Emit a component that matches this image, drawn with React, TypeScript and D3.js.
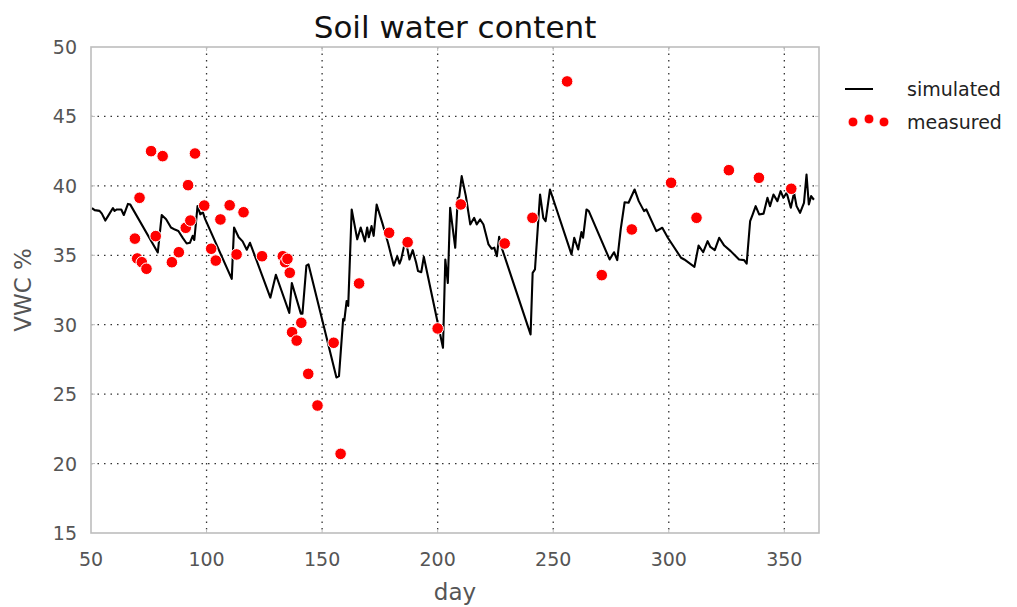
import React from 'react';
import * as d3 from 'd3';

// simulated soil water content (day, VWC %)
const simDays = [
  50.4, 51.6, 53.7, 54.7, 56.2, 57.3, 59.5, 60.2, 61.2, 63.1, 64.2, 66, 67, 78.9, 80.6, 82.5, 84.6, 86.3, 87.8,
  89.7, 91.4, 92.8, 94, 94.7, 96.1, 97.3, 98.4, 99.4, 110.9, 111.9, 113.9, 115.6, 117.4, 118.8, 120.7, 127.6,
  130, 135.8, 136.9, 140.8, 141.5, 143.2, 144.1, 156.2, 157.3, 159.1, 159.6, 160.6, 161.3, 162.8, 165.2, 166.7,
  168.5, 169.5, 170.2, 171.4, 172.3, 173.6, 176.1, 178.5, 181, 182.5, 183.5, 184.2, 186.1, 187.8, 189.2, 190.7,
  191.5, 192.9, 194, 202.3, 203.3, 204.4, 205.4, 207.6, 208.7, 209.3, 210.4, 212.2, 214.1, 215.8, 216.9, 218.4,
  219.8, 222, 223.4, 224.5, 225.6, 226.6, 227.4, 240.2, 241.1, 242.1, 244.3, 245.7, 246.7, 248.6, 257.9, 259.1,
  260.8, 262.2, 262.9, 264.4, 265.4, 274.4, 276.3, 277.7, 279.2, 280.9, 282.6, 285.2, 287, 289.3, 290.3, 294.6,
  297.2, 299.6, 305.3, 306.7, 311.1, 312.9, 314.9, 316.8, 318, 319.9, 321.8, 324, 326.8, 330.4, 332.6, 333.7,
  335.2, 336.2, 337.6, 339.1, 341, 342.7, 343.8, 345.3, 347, 348.4, 349.6, 351, 352.8, 354.2, 355.3, 356.8,
  358.5, 359.6, 360.6, 361.6, 362.8
];
const simVwc = [
  38.4, 38.25, 38.2, 38.0, 37.5, 37.8, 38.4, 38.2, 38.3, 38.3, 37.9, 38.7, 38.65, 35.2, 37.9, 37.6, 37.0, 36.85, 36.75,
  36.25, 35.85, 35.9, 36.4, 36.1, 38.55, 37.95, 38.1, 37.6, 33.3, 37.0, 36.3, 36.0, 35.4, 35.9, 35.05, 31.95,
  33.6, 30.85, 33.0, 30.8, 30.8, 34.25, 34.35, 26.2, 26.3, 30.4, 30.3, 31.7, 31.35, 38.3, 36.15, 37.0,
  36.0, 37.0, 36.3, 37.1, 36.4, 38.65, 37.3, 35.9, 34.26, 34.93, 34.4, 34.7, 36.14, 34.7, 35.37, 34.46,
  33.86, 33.78, 34.89, 28.34, 34.7, 33.0, 38.42, 35.54, 39.14, 39.2, 40.7, 39.26, 37.22, 37.7, 37.22, 37.58,
  37.22, 35.78, 35.47, 35.55, 34.93, 36.33, 35.7, 29.3, 33.74, 33.98, 39.38, 37.7, 37.46, 39.74, 35.06, 36.26,
  35.42, 36.67, 36.26, 38.3, 38.18, 34.7, 35.22, 34.65, 36.86, 38.82, 38.78, 39.74, 38.9, 38.18, 38.3, 36.74,
  36.98, 36.26, 34.82, 34.7, 34.17, 35.7, 35.22, 36.02, 35.6, 35.37, 36.26, 35.7, 35.3, 34.7, 34.65, 34.4,
  37.46, 37.9, 38.54, 37.94, 38.0, 39.14, 38.54, 39.38, 38.9, 39.62, 39.14, 39.5, 38.42, 39.5, 38.54, 38.06,
  38.78, 40.82, 38.66, 39.26, 39.0
];

// measured soil water content
const measDays = [
  69, 70, 72, 74, 71, 76, 81, 95, 92, 78, 85, 88, 91, 93, 99, 102, 104, 106, 110, 116, 113, 124,
  133, 134, 135, 136, 141, 137, 139, 144, 148, 158, 155, 166, 179, 187, 200, 210, 229, 241, 256,
  271, 284, 301, 312, 326, 339, 353
];
const measVwc = [
  36.2, 34.77, 34.5, 34.03, 39.14, 42.5, 42.14, 42.33, 40.05, 36.38, 34.5, 35.22, 36.98, 37.5, 38.58, 35.47,
  34.62, 37.58, 38.6, 38.1, 35.06, 34.93, 34.93, 34.5, 34.74, 33.74, 30.14, 29.46, 28.86, 26.46, 24.18, 20.7,
  28.7, 32.97, 36.62, 35.94, 29.73, 38.66, 35.85, 37.7, 47.52, 33.57, 36.86, 40.22, 37.7, 41.13, 40.58, 39.79
];

const xTicks = [50, 100, 150, 200, 250, 300, 350];
const yTicks = [15, 20, 25, 30, 35, 40, 45, 50];

const W = 1017;
const H = 607;
const plot = { left: 91, right: 819, top: 47, bottom: 533 };
const font = 'DejaVu Sans, sans-serif';

export default function App() {
  const x = d3.scaleLinear().domain([50, 365]).range([plot.left, plot.right]);
  const y = d3.scaleLinear().domain([15, 50]).range([plot.bottom, plot.top]);

  const simPts: [number, number][] = simDays.map((d, i) => [d, simVwc[i]]);
  const line = d3.line<[number, number]>()
    .x(d => x(d[0]))
    .y(d => y(d[1]));

  const tickColor = '#555';
  const spine = '#bdbdbd';

  return (
    <svg width={W} height={H} style={{ position: 'absolute', left: 0, top: 0, background: '#fff' }}
      fontFamily={font}>
      {/* grid */}
      {xTicks.slice(1).map(t => (
        <line key={'gx' + t} x1={x(t)} x2={x(t)} y1={plot.top} y2={plot.bottom}
          stroke="#333" strokeWidth={1.3} strokeDasharray="1.5,5" />
      ))}
      {yTicks.slice(1, -1).map(t => (
        <line key={'gy' + t} x1={plot.left} x2={plot.right} y1={y(t)} y2={y(t)}
          stroke="#333" strokeWidth={1.3} strokeDasharray="1.5,5" />
      ))}

      {/* simulated line */}
      <path d={line(simPts) || ''} fill="none" stroke="#000" strokeWidth={2.1} strokeLinejoin="round" />

      {/* measured points */}
      {measDays.map((d, i) => (
        <circle key={'m' + i} cx={x(d)} cy={y(measVwc[i])} r={5.8} fill="#ff0000" stroke="#fff" strokeWidth={1} />
      ))}

      {/* frame and ticks */}
      <rect x={plot.left} y={plot.top} width={plot.right - plot.left} height={plot.bottom - plot.top}
        fill="none" stroke={spine} strokeWidth={1.6} />
      {xTicks.slice(1).map(t => (
        <g key={'tx' + t} stroke={spine} strokeWidth={1}>
          <line x1={x(t)} x2={x(t)} y1={plot.bottom} y2={plot.bottom - 4} />
          <line x1={x(t)} x2={x(t)} y1={plot.top} y2={plot.top + 4} />
        </g>
      ))}
      {yTicks.slice(1, -1).map(t => (
        <g key={'ty' + t} stroke={spine} strokeWidth={1}>
          <line x1={plot.left} x2={plot.left + 4} y1={y(t)} y2={y(t)} />
          <line x1={plot.right} x2={plot.right - 4} y1={y(t)} y2={y(t)} />
        </g>
      ))}

      {/* tick labels */}
      {xTicks.map(t => (
        <text key={'lx' + t} x={x(t)} y={566} textAnchor="middle" fontSize={19} fill={tickColor}>{t}</text>
      ))}
      {yTicks.map(t => (
        <text key={'ly' + t} x={77} y={y(t) + 7} textAnchor="end" fontSize={19} fill={tickColor}>{t}</text>
      ))}

      {/* axis labels */}
      <text x={(plot.left + plot.right) / 2} y={600} textAnchor="middle" fontSize={23} fill={tickColor}>day</text>
      <text transform={`translate(31,${(plot.top + plot.bottom) / 2}) rotate(-90)`} textAnchor="middle"
        fontSize={23} fill={tickColor}>VWC %</text>

      {/* title */}
      <text x={(plot.left + plot.right) / 2} y={38} textAnchor="middle" fontSize={31} fill="#111">
        Soil water content
      </text>

      {/* legend */}
      <line x1={845} x2={873} y1={89} y2={89} stroke="#000" strokeWidth={2} />
      <text x={907} y={96} fontSize={19} fill="#222">simulated</text>
      {[[853, 122], [869, 119], [884, 122]].map(([cx, cy], i) => (
        <circle key={'lg' + i} cx={cx} cy={cy} r={5} fill="#ff0000" stroke="#fff" strokeWidth={1} />
      ))}
      <text x={907} y={129} fontSize={19} fill="#222">measured</text>
    </svg>
  );
}
